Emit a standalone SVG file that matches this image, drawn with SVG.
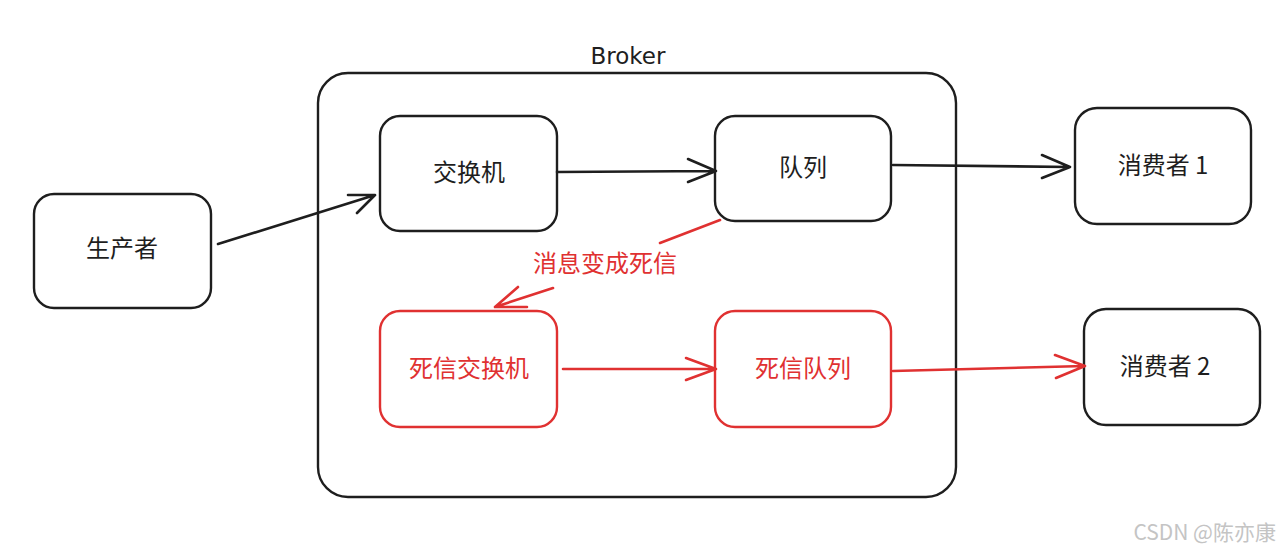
<svg xmlns="http://www.w3.org/2000/svg" width="1279" height="555" viewBox="0 0 1279 555">
<style>
.box{fill:none;stroke:#1e1e1e;stroke-width:2.4}
.rbox{fill:none;stroke:#e03131;stroke-width:2.4}
.t{font-family:"Noto Sans CJK SC","Noto Sans",sans-serif;font-size:24px;fill:#1e1e1e;text-anchor:middle;dominant-baseline:central}
.rt{fill:#e03131}
.ln{fill:none;stroke:#1e1e1e;stroke-width:2.6;stroke-linecap:round;stroke-linejoin:round}
.rln{fill:none;stroke:#e03131;stroke-width:2.6;stroke-linecap:round;stroke-linejoin:round}
</style>
<rect width="1279" height="555" fill="#fff"/>
<g id="broker">
<rect class="box" x="318" y="73" width="638" height="424" rx="30"/>
<text x="628" y="56" style="font-family:'DejaVu Sans',sans-serif;font-size:23px;fill:#1e1e1e;text-anchor:middle;dominant-baseline:central">Broker</text>
</g>
<g id="producer">
<rect class="box" x="34" y="194" width="177" height="114" rx="20"/>
<text class="t" x="122" y="246">生产者</text>
</g>
<g id="exchange">
<rect class="box" x="380" y="116" width="177" height="115" rx="20"/>
<text class="t" x="469" y="170">交换机</text>
</g>
<g id="queue">
<rect class="box" x="715" y="116" width="176" height="105" rx="20"/>
<text class="t" x="803" y="165">队列</text>
</g>
<g id="consumer1">
<rect class="box" x="1075" y="108" width="176" height="116" rx="22"/>
<text class="t" x="1163" y="163">消费者 1</text>
</g>
<g id="dlx">
<rect class="rbox" x="380" y="311" width="177" height="116" rx="20"/>
<text class="t rt" x="469" y="366">死信交换机</text>
</g>
<g id="dlq">
<rect class="rbox" x="715" y="311" width="176" height="116" rx="20"/>
<text class="t rt" x="803" y="366">死信队列</text>
</g>
<g id="consumer2">
<rect class="box" x="1084" y="309" width="176" height="116" rx="22"/>
<text class="t" x="1165" y="364">消费者 2</text>
</g>
<g id="connectors">
<path class="ln" d="M218 244 L375 195 M348 195 L375 195 L357 213"/>
<path class="ln" d="M557 172 L716 171 M688 159 L716 171 L688 182"/>
<path class="ln" d="M893 165 L1070 167 M1042 155 L1070 167 L1042 178"/>
<path class="rln" d="M720 220 L660 243 M553 288 L495 307 M518 287 L495 307 L527 307"/>
<text class="t rt" x="605" y="261">消息变成死信</text>
<path class="rln" d="M563 369 L716 369 M686 358 L716 369 L686 380"/>
<path class="rln" d="M893 371 L1085 366 M1055 355 L1085 366 L1056 378"/>
</g>
<text x="1276" y="531" style="font-family:'Noto Sans CJK SC',sans-serif;font-size:21px;fill:#c4c4c4;text-anchor:end;dominant-baseline:central">CSDN @陈亦康</text>
</svg>
